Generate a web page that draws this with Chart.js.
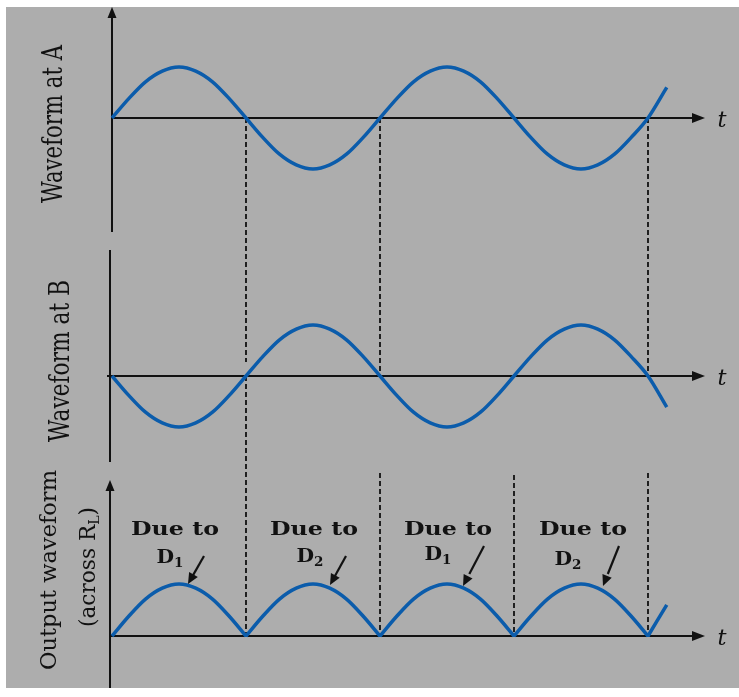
<!DOCTYPE html>
<html>
<head>
<meta charset="utf-8">
<script src="https://cdn.jsdelivr.net/npm/chart.js@4/dist/chart.umd.min.js"></script>
<style>
html,body{margin:0;padding:0;background:#fff}
#caja{position:relative;width:739px;height:697px}
</style>
</head>
<body>
<div id="caja"><canvas id="grafics"></canvas></div>
<script>
// tiempo en medios periodos (0 = origen, 1 = primer cruce por cero)
const tAB = [0,0.125,0.25,0.375,0.5,0.625,0.75,0.875,1,1.125,1.25,1.375,1.5,1.625,1.75,1.875,2,
    2.125,2.25,2.375,2.5,2.625,2.75,2.875,3,3.125,3.25,3.375,3.5,3.625,3.75,3.875,4,4.14]
const waveA = [0,0.38,0.71,0.92,1,0.92,0.71,0.38,0,-0.38,-0.71,-0.92,-1,-0.92,-0.71,-0.38,0,
    0.38,0.71,0.92,1,0.92,0.71,0.38,0,-0.38,-0.71,-0.92,-1,-0.92,-0.71,-0.38,0,0.6]
const waveB = [0,-0.38,-0.71,-0.92,-1,-0.92,-0.71,-0.38,0,0.38,0.71,0.92,1,0.92,0.71,0.38,0,
    -0.38,-0.71,-0.92,-1,-0.92,-0.71,-0.38,0,0.38,0.71,0.92,1,0.92,0.71,0.38,0,-0.61]
// salida rectificada, null corta la linea en cada cero (pico agudo)
const tC = [0,0.125,0.25,0.375,0.5,0.625,0.75,0.875,1,1,
    1,1.125,1.25,1.375,1.5,1.625,1.75,1.875,2,2,
    2,2.125,2.25,2.375,2.5,2.625,2.75,2.875,3,3,
    3,3.125,3.25,3.375,3.5,3.625,3.75,3.875,4,4,
    4,4.14]
const outC = [0,0.38,0.71,0.92,1,0.92,0.71,0.38,0,null,
    0,0.38,0.71,0.92,1,0.92,0.71,0.38,0,null,
    0,0.38,0.71,0.92,1,0.92,0.71,0.38,0,null,
    0,0.38,0.71,0.92,1,0.92,0.71,0.38,0,null,
    0,0.6]
const diodes = ['1','2','1','2']
const panelTitles = ['Waveform at A','Waveform at B','Output waveform']

window.addEventListener('load',()=>{
    const canvas = document.getElementById('grafics')
    const W = 739, H = 697
    const x0 = 112, halfPx = 134
    const blue = '#0b5cab'
    const ink = '#111'
    const serif = '"DejaVu Serif"'

    // cada panel: pixel del cero y pixeles por unidad
    const yScale = (zero,ppu)=>({type:'linear',display:false,max:zero/ppu,min:zero/ppu-H/ppu})

    const pts = (t,v)=>t.map((x,i)=>({x:x,y:v[i]}))
    const line = (data,axis)=>({
        data:data, yAxisID:axis, borderColor:blue, borderWidth:3.5,
        pointRadius:0, fill:false, cubicInterpolationMode:'monotone', clip:false
    })

    function arrowHead(ctx,x,y,dx,dy,len,wid){
        const n = Math.hypot(dx,dy); dx/=n; dy/=n
        ctx.beginPath()
        ctx.moveTo(x,y)
        ctx.lineTo(x-dx*len-dy*wid/2,y-dy*len+dx*wid/2)
        ctx.lineTo(x-dx*len+dy*wid/2,y-dy*len-dx*wid/2)
        ctx.closePath(); ctx.fill()
    }
    // texto en tramos, estirado a un largo dado
    function runs(ctx,parts,cx,cy,rot,len,sy,wt){
        let total = 0
        const f = p=>(p.it?'italic ':'')+(wt||'')+' '+p.s+'px '+serif
        parts.forEach(p=>{ctx.font=f(p); p.w=ctx.measureText(p.t).width; total+=p.w})
        ctx.save()
        ctx.translate(cx,cy); ctx.rotate(rot); ctx.scale(len/total,sy)
        ctx.textBaseline='alphabetic'; ctx.textAlign='left'
        let x = -total/2
        parts.forEach(p=>{ctx.font=f(p); ctx.fillText(p.t,x,p.dy||0); x+=p.w})
        ctx.restore()
    }

    const sketch = {
        id:'sketch',
        beforeDraw(chart){
            const ctx = chart.ctx
            ctx.save()
            ctx.fillStyle='#fff'; ctx.fillRect(0,0,W,H)
            ctx.fillStyle='#adadad'; ctx.fillRect(6,7,W-6,681)
            ctx.restore()
        },
        beforeDatasetsDraw(chart){
            const ctx = chart.ctx, s = chart.scales
            const px = v=>s.x.getPixelForValue(v)
            ctx.save()
            // lineas discontinuas en los cruces por cero
            const dashes = [[1,[[118,362],[376,636]]],[2,[[118,376],[473,636]]],[3,[[475,636]]],[4,[[118,376],[473,636]]]]
            ctx.strokeStyle=ink; ctx.lineWidth=1.8; ctx.setLineDash([5,3])
            dashes.forEach(([t,segs])=>{
                segs.forEach(([a,b])=>{ctx.beginPath(); ctx.moveTo(px(t),a); ctx.lineTo(px(t),b); ctx.stroke()})
            })
            ctx.setLineDash([])
            // ejes
            ctx.lineWidth=2; ctx.fillStyle=ink
            const axes = [
                {y:'yA', vx:px(0), top:7, bot:232, up:true, hx:px(0)},
                {y:'yB', vx:px(0)-2, top:250, bot:462, up:false, hx:px(0)-5},
                {y:'yC', vx:px(0)-2, top:480, bot:688, up:true, hx:px(0)-2}
            ]
            axes.forEach(a=>{
                const zy = s[a.y].getPixelForValue(0)
                ctx.beginPath(); ctx.moveTo(a.vx,a.bot); ctx.lineTo(a.vx,a.up?a.top+8:a.top); ctx.stroke()
                if(a.up) arrowHead(ctx,a.vx,a.top,0,-1,11,9)
                ctx.beginPath(); ctx.moveTo(a.hx,zy); ctx.lineTo(695,zy); ctx.stroke()
                arrowHead(ctx,705,zy,1,0,13,10)
                runs(ctx,[{t:'t',s:22,it:true}],722,zy+9,0,9,1)
            })
            ctx.restore()
        },
        afterDatasetsDraw(chart){
            const ctx = chart.ctx
            ctx.save()
            ctx.fillStyle=ink; ctx.strokeStyle=ink
            // titulos verticales
            runs(ctx,[{t:panelTitles[0],s:20}],62,124,-Math.PI/2,158,1.4)
            runs(ctx,[{t:panelTitles[1],s:20}],69,361,-Math.PI/2,162,1.4)
            runs(ctx,[{t:panelTitles[2],s:20}],56,570,-Math.PI/2,200,1.1)
            runs(ctx,[{t:'(across R',s:20},{t:'L',s:13,dy:4},{t:')',s:20}],95,567,-Math.PI/2,120,1.1)
            // etiquetas "Due to Dn" con flechas
            const notes = [
                {c:175,dx:157,dby:563,a:[204,556,188,584]},
                {c:314,dx:297,dby:562,a:[346,556,330,585]},
                {c:448,dx:425,dby:560,a:[484,546,463,586]},
                {c:583,dx:555,dby:565,a:[619,546,603,586]}
            ]
            notes.forEach((n,i)=>{
                runs(ctx,[{t:'Due to',s:18}],n.c,535,0,88,1,'bold')
                runs(ctx,[{t:'D',s:18},{t:diodes[i],s:12,dy:4}],n.dx+13,n.dby,0,27,1,'bold')
                const [x1,y1,x2,y2] = n.a
                ctx.lineWidth=2.2
                ctx.beginPath(); ctx.moveTo(x1,y1); ctx.lineTo(x2+(x1-x2)*0.3,y2+(y1-y2)*0.3); ctx.stroke()
                arrowHead(ctx,x2,y2,x2-x1,y2-y1,11,10)
            })
            ctx.restore()
        }
    }

    new Chart(canvas.getContext('2d'),{
        type:'line',
        data:{datasets:[
            line(pts(tAB,waveA),'yA'),
            line(pts(tAB,waveB),'yB'),
            line(pts(tC,outC),'yC')
        ]},
        options:{
            responsive:true, maintainAspectRatio:false, animation:false,
            layout:{padding:0},
            plugins:{legend:{display:false},tooltip:{enabled:false}},
            events:[],
            scales:{
                x:{type:'linear',display:false,min:-x0/halfPx,max:(W-x0)/halfPx},
                yA:yScale(118,51),
                yB:yScale(376,51),
                yC:yScale(636,52)
            }
        },
        plugins:[sketch]
    })
})
</script>
</body>
</html>
